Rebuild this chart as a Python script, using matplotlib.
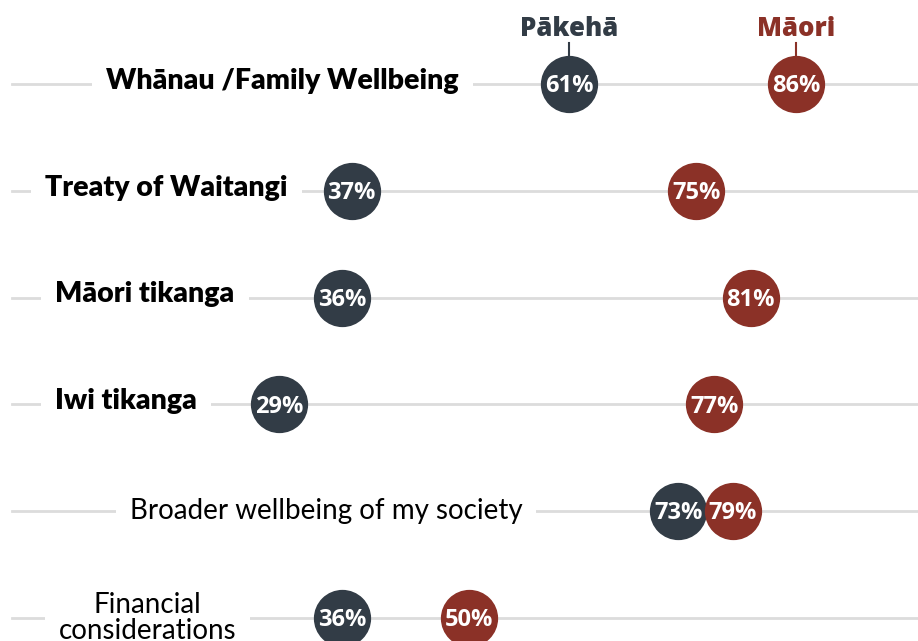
import numpy as np
import matplotlib.pyplot as plt

# data
categories = ['Whānau /Family Wellbeing', 'Treaty of Waitangi', 'Māori tikanga',
              'Iwi tikanga', 'Broader wellbeing of my society', 'Financial\nconsiderations']
pakeha = [61, 37, 36, 29, 73, 36]
maori = [86, 75, 81, 77, 79, 50]
bold_rows = [True, True, True, True, False, False]
series_names = ['Pākehā', 'Māori']

# layout (label centres in axes fraction)
label_x = [0.308, 0.181, 0.158, 0.137, 0.355, 0.161]
dark = '#323c46'
red = '#8b3127'

fig = plt.figure(figsize=(9.18, 6.41), dpi=100)
ax = fig.add_axes([0, 0, 1, 1])
ax.set_xlim(-1.76, 99.45)
ax.set_ylim(5.215, -0.787)
ax.axis('off')

rows = np.arange(len(categories))

# grey guide lines
for r in rows:
    ax.axhline(r, xmin=12 / 918, xmax=1, color='#dcdcdc', lw=2, zorder=1)

# row labels, white box knocks the line out behind them
for r, lab, lx, b in zip(rows, categories, label_x, bold_rows):
    if b:
        ax.text(lx, r - 0.03, lab, transform=ax.get_yaxis_transform(), ha='center', va='center',
                fontsize=20.5, fontweight='heavy', family='Lato', color='black', zorder=2,
                bbox=dict(boxstyle='square,pad=0.5', fc='white', ec='none'))
    else:
        ax.text(lx, r, lab, transform=ax.get_yaxis_transform(), ha='center', va='center',
                fontsize=20, fontweight='normal', family='Lato', color='black', zorder=2,
                linespacing=1.0,
                bbox=dict(boxstyle='square,pad=0.5', fc='white', ec='none'))

# dots
ax.scatter(pakeha, rows, s=1700, color=dark, zorder=3, linewidths=0)
ax.scatter(maori, rows, s=1700, color=red, zorder=4, linewidths=0)
for r in rows:
    for v in (pakeha[r], maori[r]):
        ax.text(v, r + 0.02, f'{v}%', ha='center', va='center', color='white',
                fontsize=17, fontweight='bold', family='Open Sans', zorder=5)

# series headers with small ticks down to the first row
for name, v, c in zip(series_names, (pakeha[0], maori[0]), (dark, red)):
    ax.plot([v, v], [-0.385, -0.2], color=c, lw=1.5, zorder=2)
    ax.text(v, -0.52, name, ha='center', va='center', color=c,
            fontsize=18.5, fontweight='heavy', family='Open Sans', zorder=5)

fig.savefig('out.png', dpi=100)
